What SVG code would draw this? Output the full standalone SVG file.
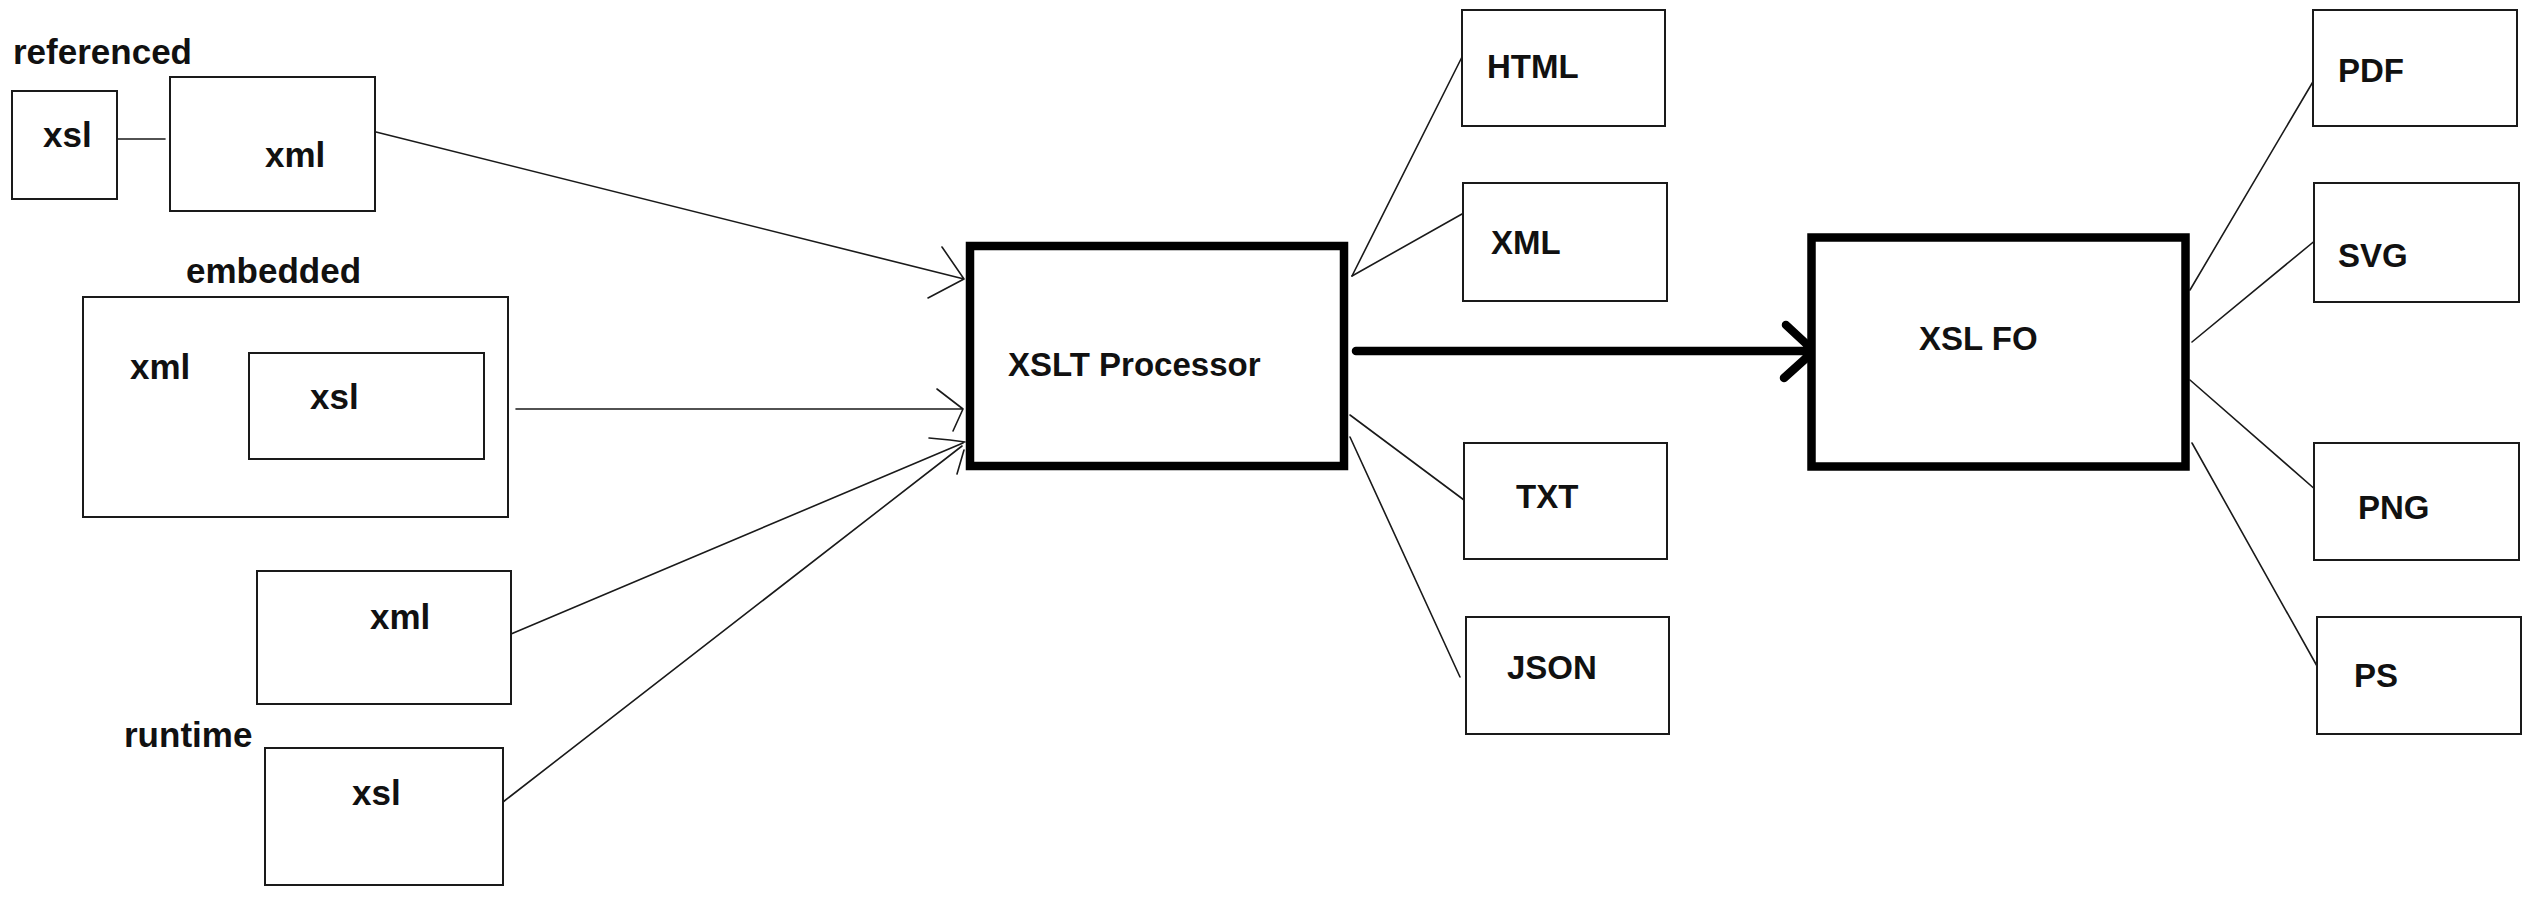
<svg xmlns="http://www.w3.org/2000/svg" width="2536" height="900" viewBox="0 0 2536 900">
  <style>
    .box { fill: #fff; stroke: #1a1a1a; stroke-width: 2; }
    .thick { fill: #fff; stroke: #000; stroke-width: 8.5; }
    .lbl { font-family: "Liberation Sans", Arial, sans-serif; font-weight: bold; fill: #111; }
    .lc { font-size: 35px; }
    .uc { font-size: 33px; }
    .ln { fill: none; stroke: #1a1a1a; stroke-width: 1.6; stroke-linecap: round; stroke-linejoin: round; }
    .big { fill: none; stroke: #000; stroke-width: 8.5; stroke-linecap: round; stroke-linejoin: round; }
  </style>
  <rect width="2536" height="900" fill="#fff"/>

  <g id="connectors">
    <path class="ln" d="M117,139 L165,139"/>
    <path class="ln" d="M376,132 L964,279 M942,247 L964,279 L928,298"/>
    <path class="ln" d="M516,409 L963,409 M937,389 L963,409 L953,431"/>
    <path class="ln" d="M511,634 L963,443 M929,438 L950,440 L965,442"/>
    <path class="ln" d="M503,802 L962,446 M957,474 L964,450"/>
    <path class="ln" d="M1352,276 L1463,55"/>
    <path class="ln" d="M1352,276 L1462,214"/>
    <path class="ln" d="M1350,415 L1468,503"/>
    <path class="ln" d="M1350,437 L1460,677"/>
    <path class="big" d="M1356,351 L1814,351 M1786,325 L1814,351 L1784,378"/>
    <path class="ln" d="M2190,290 L2314,80"/>
    <path class="ln" d="M2192,342 L2317,239"/>
    <path class="ln" d="M2190,380 L2317,491"/>
    <path class="ln" d="M2192,443 L2317,666"/>
  </g>

  <g id="label-referenced"><text class="lbl lc" x="13" y="64">referenced</text></g>
  <g id="ref-xsl">
    <rect class="box" x="12" y="91" width="105" height="108"/>
    <text class="lbl lc" x="43" y="147">xsl</text>
  </g>
  <g id="ref-xml">
    <rect class="box" x="170" y="77" width="205" height="134"/>
    <text class="lbl lc" x="265" y="167">xml</text>
  </g>

  <g id="label-embedded"><text class="lbl lc" x="186" y="283">embedded</text></g>
  <g id="emb-xml">
    <rect class="box" x="83" y="297" width="425" height="220"/>
    <text class="lbl lc" x="130" y="379">xml</text>
  </g>
  <g id="emb-xsl">
    <rect class="box" x="249" y="353" width="235" height="106"/>
    <text class="lbl lc" x="310" y="409">xsl</text>
  </g>

  <g id="rt-xml">
    <rect class="box" x="257" y="571" width="254" height="133"/>
    <text class="lbl lc" x="370" y="629">xml</text>
  </g>
  <g id="label-runtime"><text class="lbl lc" x="124" y="747">runtime</text></g>
  <g id="rt-xsl">
    <rect class="box" x="265" y="748" width="238" height="137"/>
    <text class="lbl lc" x="352" y="805">xsl</text>
  </g>

  <g id="xslt-processor">
    <rect class="thick" x="970" y="246" width="374" height="220"/>
    <text class="lbl uc" x="1008" y="376">XSLT Processor</text>
  </g>

  <g id="out-html">
    <rect class="box" x="1462" y="10" width="203" height="116"/>
    <text class="lbl uc" x="1487" y="78">HTML</text>
  </g>
  <g id="out-xml">
    <rect class="box" x="1463" y="183" width="204" height="118"/>
    <text class="lbl uc" x="1491" y="254">XML</text>
  </g>
  <g id="out-txt">
    <rect class="box" x="1464" y="443" width="203" height="116"/>
    <text class="lbl uc" x="1516" y="508">TXT</text>
  </g>
  <g id="out-json">
    <rect class="box" x="1466" y="617" width="203" height="117"/>
    <text class="lbl uc" x="1507" y="679">JSON</text>
  </g>

  <g id="xsl-fo">
    <rect class="thick" x="1811.5" y="237.5" width="374" height="229"/>
    <text class="lbl uc" x="1919" y="350">XSL FO</text>
  </g>

  <g id="out-pdf">
    <rect class="box" x="2313" y="10" width="204" height="116"/>
    <text class="lbl uc" x="2338" y="82">PDF</text>
  </g>
  <g id="out-svg">
    <rect class="box" x="2314" y="183" width="205" height="119"/>
    <text class="lbl uc" x="2338" y="267">SVG</text>
  </g>
  <g id="out-png">
    <rect class="box" x="2314" y="443" width="205" height="117"/>
    <text class="lbl uc" x="2358" y="519">PNG</text>
  </g>
  <g id="out-ps">
    <rect class="box" x="2317" y="617" width="204" height="117"/>
    <text class="lbl uc" x="2354" y="687">PS</text>
  </g>
</svg>
